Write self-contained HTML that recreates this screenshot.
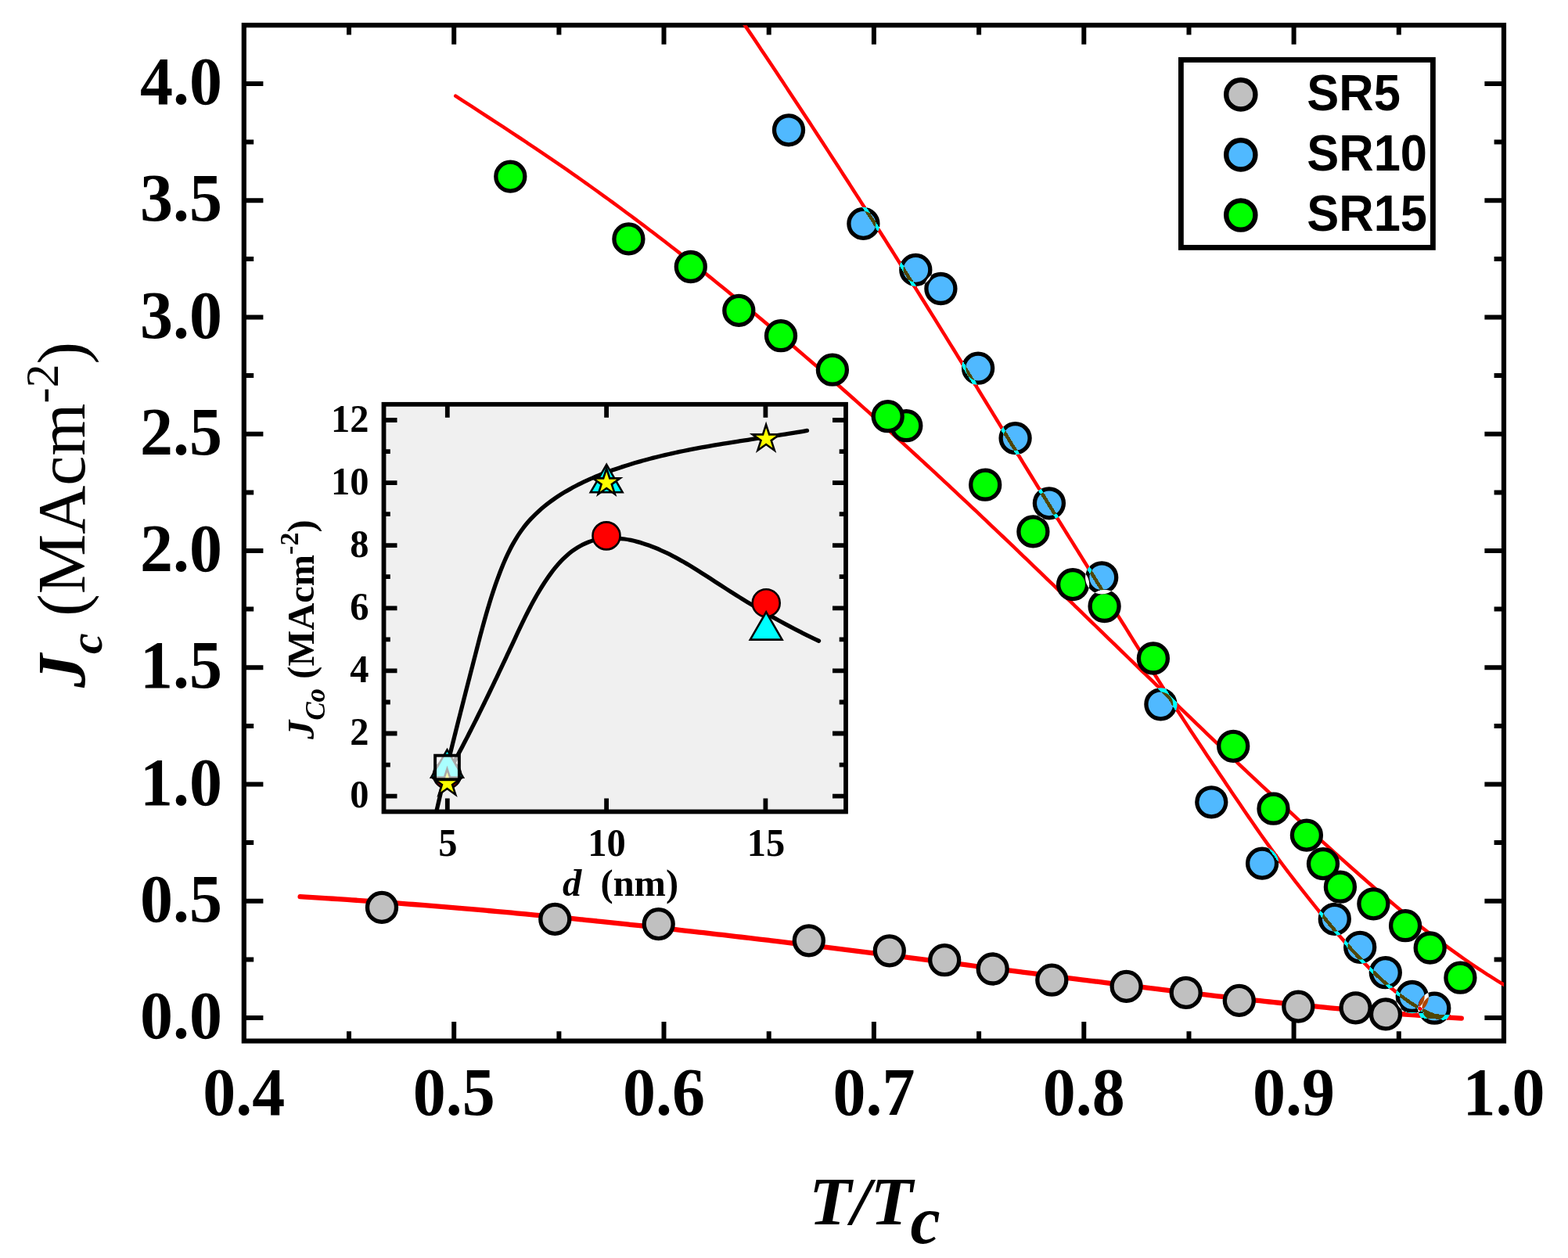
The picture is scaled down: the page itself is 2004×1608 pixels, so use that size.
<!DOCTYPE html>
<html lang="en"><head><meta charset="utf-8"><title>Jc vs T/Tc</title>
<style>
html,body{margin:0;padding:0;background:#fff;}
body{width:2004px;height:1608px;overflow:hidden;}
svg{display:block;isolation:isolate;}
text{font-family:"Liberation Serif","Times New Roman",serif;fill:#000;}
.b{font-weight:bold;}
.bi{font-weight:bold;font-style:italic;}
.leg text{font-family:"Liberation Sans",Arial,sans-serif;font-weight:bold;}
.x{mix-blend-mode:difference;}
</style></head><body>
<svg xmlns="http://www.w3.org/2000/svg" width="2004" height="1608" viewBox="0 0 2004 1608">
<rect x="0" y="0" width="2004" height="1608" fill="#fff"/>
<defs><clipPath id="plot"><rect x="311.8" y="32.2" width="1610.2" height="1298.4"/></clipPath></defs>
<g stroke="#000" stroke-width="6.0" fill="none">
<path d="M446.0 32.2v12.4M446.0 1330.6v-12.4M580.2 32.2v24.6M580.2 1330.6v-24.6M714.4 32.2v12.4M714.4 1330.6v-12.4M848.5 32.2v24.6M848.5 1330.6v-24.6M982.7 32.2v12.4M982.7 1330.6v-12.4M1116.9 32.2v24.6M1116.9 1330.6v-24.6M1251.1 32.2v12.4M1251.1 1330.6v-12.4M1385.3 32.2v24.6M1385.3 1330.6v-24.6M1519.5 32.2v12.4M1519.5 1330.6v-12.4M1653.6 32.2v24.6M1653.6 1330.6v-24.6M1787.8 32.2v12.4M1787.8 1330.6v-12.4M311.8 1301.0h24.6M1922.0 1301.0h-24.6M311.8 1226.4h12.4M1922.0 1226.4h-12.4M311.8 1151.8h24.6M1922.0 1151.8h-24.6M311.8 1077.1h12.4M1922.0 1077.1h-12.4M311.8 1002.5h24.6M1922.0 1002.5h-24.6M311.8 927.9h12.4M1922.0 927.9h-12.4M311.8 853.2h24.6M1922.0 853.2h-24.6M311.8 778.6h12.4M1922.0 778.6h-12.4M311.8 704.0h24.6M1922.0 704.0h-24.6M311.8 629.4h12.4M1922.0 629.4h-12.4M311.8 554.8h24.6M1922.0 554.8h-24.6M311.8 480.1h12.4M1922.0 480.1h-12.4M311.8 405.5h24.6M1922.0 405.5h-24.6M311.8 330.9h12.4M1922.0 330.9h-12.4M311.8 256.2h24.6M1922.0 256.2h-24.6M311.8 181.6h12.4M1922.0 181.6h-12.4M311.8 107.0h24.6M1922.0 107.0h-24.6"/>
<rect x="311.8" y="32.2" width="1610.2" height="1298.4" stroke-width="6.2"/>
</g>
<g class="b" font-size="84">
<text transform="translate(284 1327.0) scale(1 1.027)" text-anchor="end">0.0</text>
<text transform="translate(284 1177.8) scale(1 1.027)" text-anchor="end">0.5</text>
<text transform="translate(284 1028.5) scale(1 1.027)" text-anchor="end">1.0</text>
<text transform="translate(284 879.2) scale(1 1.027)" text-anchor="end">1.5</text>
<text transform="translate(284 730.0) scale(1 1.027)" text-anchor="end">2.0</text>
<text transform="translate(284 580.8) scale(1 1.027)" text-anchor="end">2.5</text>
<text transform="translate(284 431.5) scale(1 1.027)" text-anchor="end">3.0</text>
<text transform="translate(284 282.2) scale(1 1.027)" text-anchor="end">3.5</text>
<text transform="translate(284 133.0) scale(1 1.027)" text-anchor="end">4.0</text>
<text transform="translate(311.8 1424.5) scale(1 1.027)" text-anchor="middle">0.4</text>
<text transform="translate(580.2 1424.5) scale(1 1.027)" text-anchor="middle">0.5</text>
<text transform="translate(848.5 1424.5) scale(1 1.027)" text-anchor="middle">0.6</text>
<text transform="translate(1116.9 1424.5) scale(1 1.027)" text-anchor="middle">0.7</text>
<text transform="translate(1385.3 1424.5) scale(1 1.027)" text-anchor="middle">0.8</text>
<text transform="translate(1653.6 1424.5) scale(1 1.027)" text-anchor="middle">0.9</text>
<text transform="translate(1922.0 1424.5) scale(1 1.027)" text-anchor="middle">1.0</text>
</g>
<text class="bi" font-size="86" transform="translate(1033.9 1564.8) scale(1.03 1)">T/T</text>
<text class="bi" font-size="86" x="1163.6" y="1588.8">c</text>
<text transform="translate(107.8 879) rotate(-90)" font-size="86"><tspan class="bi">J</tspan><tspan class="bi" font-size="60" dy="22">c</tspan><tspan dy="-22"> (MAcm</tspan><tspan font-size="60" dy="-34">-2</tspan><tspan dy="34">)</tspan></text>
<defs>
<clipPath id="bc"><circle cx="1008.0" cy="166.3" r="23"/><circle cx="1103.4" cy="285.9" r="23"/><circle cx="1170.3" cy="344.9" r="23"/><circle cx="1202.4" cy="369.0" r="23"/><circle cx="1250.1" cy="470.7" r="23"/><circle cx="1297.6" cy="560.1" r="23"/><circle cx="1340.9" cy="643.3" r="23"/><circle cx="1408.2" cy="738.3" r="23"/><circle cx="1483.4" cy="900.3" r="23"/><circle cx="1548.3" cy="1025.3" r="23"/><circle cx="1613.1" cy="1103.6" r="23"/><circle cx="1705.8" cy="1174.8" r="23"/><circle cx="1738.2" cy="1210.8" r="23"/><circle cx="1770.8" cy="1243.2" r="23"/><circle cx="1804.8" cy="1274.0" r="23"/><circle cx="1833.3" cy="1288.7" r="23"/></clipPath>
<mask id="nbc" maskUnits="userSpaceOnUse" x="0" y="0" width="2004" height="1608"><rect width="2004" height="1608" fill="#fff"/><circle cx="1008.0" cy="166.3" r="22" fill="#000"/><circle cx="1103.4" cy="285.9" r="22" fill="#000"/><circle cx="1170.3" cy="344.9" r="22" fill="#000"/><circle cx="1202.4" cy="369.0" r="22" fill="#000"/><circle cx="1250.1" cy="470.7" r="22" fill="#000"/><circle cx="1297.6" cy="560.1" r="22" fill="#000"/><circle cx="1340.9" cy="643.3" r="22" fill="#000"/><circle cx="1408.2" cy="738.3" r="22" fill="#000"/><circle cx="1483.4" cy="900.3" r="22" fill="#000"/><circle cx="1548.3" cy="1025.3" r="22" fill="#000"/><circle cx="1613.1" cy="1103.6" r="22" fill="#000"/><circle cx="1705.8" cy="1174.8" r="22" fill="#000"/><circle cx="1738.2" cy="1210.8" r="22" fill="#000"/><circle cx="1770.8" cy="1243.2" r="22" fill="#000"/><circle cx="1804.8" cy="1274.0" r="22" fill="#000"/><circle cx="1833.3" cy="1288.7" r="22" fill="#000"/></mask>
<g id="fits" fill="none" stroke="#f00" stroke-linecap="round" stroke-linejoin="round">
<path stroke-width="6.3" d="M383.6 1146.2C385.58 1146.33 391.60 1146.68 395.61 1146.92C399.62 1147.16 403.63 1147.40 407.64 1147.65C411.65 1147.89 415.66 1148.14 419.67 1148.39C423.68 1148.65 427.69 1148.90 431.70 1149.16C435.71 1149.42 439.72 1149.68 443.73 1149.95C447.74 1150.22 451.74 1150.48 455.75 1150.76C459.76 1151.03 463.77 1151.31 467.77 1151.58C471.78 1151.86 475.78 1152.15 479.79 1152.43C483.80 1152.72 487.80 1153.01 491.81 1153.30C495.81 1153.59 499.82 1153.89 503.82 1154.18C507.82 1154.48 511.83 1154.78 515.83 1155.09C519.83 1155.39 523.84 1155.70 527.84 1156.01C531.84 1156.32 535.84 1156.63 539.85 1156.95C543.85 1157.27 547.85 1157.59 551.85 1157.91C555.85 1158.23 559.85 1158.55 563.85 1158.88C567.85 1159.21 571.85 1159.54 575.85 1159.88C579.85 1160.21 583.85 1160.55 587.85 1160.89C591.85 1161.22 595.84 1161.57 599.84 1161.91C603.84 1162.26 607.84 1162.60 611.84 1162.95C615.83 1163.30 619.83 1163.66 623.83 1164.01C627.82 1164.37 631.82 1164.73 635.82 1165.09C639.81 1165.45 643.81 1165.81 647.80 1166.18C651.80 1166.55 655.79 1166.91 659.79 1167.28C663.78 1167.66 667.78 1168.03 671.77 1168.41C675.77 1168.78 679.76 1169.16 683.75 1169.54C687.75 1169.92 691.74 1170.31 695.73 1170.69C699.73 1171.08 703.72 1171.47 707.71 1171.86C711.70 1172.25 715.70 1172.64 719.69 1173.04C723.68 1173.43 727.67 1173.83 731.66 1174.23C735.66 1174.63 739.65 1175.03 743.64 1175.44C747.63 1175.84 751.62 1176.25 755.61 1176.65C759.60 1177.06 763.59 1177.47 767.58 1177.89C771.57 1178.30 775.56 1178.71 779.55 1179.13C783.54 1179.55 787.53 1179.97 791.51 1180.39C795.50 1180.81 799.49 1181.23 803.48 1181.66C807.47 1182.08 811.46 1182.51 815.44 1182.94C819.43 1183.37 823.42 1183.80 827.41 1184.23C831.40 1184.67 835.38 1185.10 839.37 1185.54C843.36 1185.98 847.34 1186.41 851.33 1186.85C855.32 1187.29 859.30 1187.74 863.29 1188.18C867.28 1188.62 871.26 1189.07 875.25 1189.52C879.23 1189.97 883.22 1190.41 887.21 1190.87C891.19 1191.32 895.18 1191.77 899.16 1192.22C903.15 1192.68 907.13 1193.13 911.12 1193.59C915.10 1194.05 919.09 1194.51 923.07 1194.97C927.05 1195.43 931.04 1195.89 935.02 1196.35C939.01 1196.82 942.99 1197.28 946.98 1197.75C950.96 1198.21 954.94 1198.68 958.93 1199.15C962.91 1199.62 966.89 1200.09 970.88 1200.56C974.86 1201.03 978.84 1201.51 982.83 1201.98C986.81 1202.46 990.79 1202.93 994.78 1203.41C998.76 1203.89 1002.74 1204.37 1006.72 1204.85C1010.71 1205.33 1014.69 1205.81 1018.67 1206.29C1022.65 1206.77 1026.64 1207.26 1030.62 1207.74C1034.60 1208.22 1038.58 1208.71 1042.56 1209.20C1046.55 1209.68 1050.53 1210.17 1054.51 1210.66C1058.49 1211.15 1062.47 1211.64 1066.46 1212.13C1070.44 1212.62 1074.42 1213.11 1078.40 1213.61C1082.38 1214.10 1086.36 1214.59 1090.35 1215.09C1094.33 1215.58 1098.31 1216.08 1102.29 1216.57C1106.27 1217.07 1110.25 1217.57 1114.23 1218.07C1118.21 1218.57 1122.20 1219.06 1126.18 1219.56C1130.16 1220.06 1134.14 1220.56 1138.12 1221.07C1142.10 1221.57 1146.08 1222.07 1150.06 1222.57C1154.04 1223.08 1158.02 1223.58 1162.01 1224.08C1165.99 1224.59 1169.97 1225.09 1173.95 1225.60C1177.93 1226.10 1181.91 1226.61 1185.89 1227.12C1189.87 1227.62 1193.85 1228.13 1197.83 1228.64C1201.81 1229.14 1205.79 1229.65 1209.78 1230.16C1213.76 1230.67 1217.74 1231.18 1221.72 1231.69C1225.70 1232.20 1229.68 1232.71 1233.66 1233.22C1237.64 1233.73 1241.62 1234.24 1245.60 1234.75C1249.58 1235.26 1253.57 1235.77 1257.55 1236.28C1261.53 1236.79 1265.51 1237.31 1269.49 1237.82C1273.47 1238.33 1277.45 1238.84 1281.43 1239.35C1285.41 1239.87 1289.39 1240.38 1293.38 1240.89C1297.36 1241.40 1301.34 1241.91 1305.32 1242.42C1309.30 1242.93 1313.28 1243.44 1317.26 1243.96C1321.25 1244.47 1325.23 1244.98 1329.21 1245.49C1333.19 1246.00 1337.17 1246.50 1341.15 1247.01C1345.14 1247.52 1349.12 1248.03 1353.10 1248.54C1357.08 1249.04 1361.06 1249.55 1365.05 1250.06C1369.03 1250.56 1373.01 1251.07 1376.99 1251.57C1380.97 1252.08 1384.96 1252.58 1388.94 1253.08C1392.92 1253.58 1396.91 1254.09 1400.89 1254.59C1404.87 1255.09 1408.85 1255.58 1412.84 1256.08C1416.82 1256.58 1420.80 1257.08 1424.79 1257.57C1428.77 1258.07 1432.75 1258.56 1436.74 1259.05C1440.72 1259.55 1444.70 1260.04 1448.69 1260.53C1452.67 1261.01 1456.66 1261.50 1460.64 1261.99C1464.62 1262.48 1468.61 1262.96 1472.59 1263.44C1476.58 1263.93 1480.56 1264.41 1484.55 1264.89C1488.53 1265.36 1492.52 1265.84 1496.50 1266.32C1500.49 1266.79 1504.47 1267.26 1508.46 1267.74C1512.44 1268.21 1516.43 1268.68 1520.41 1269.14C1524.40 1269.61 1528.38 1270.07 1532.37 1270.54C1536.36 1271.00 1540.34 1271.46 1544.33 1271.92C1548.32 1272.37 1552.30 1272.83 1556.29 1273.28C1560.28 1273.73 1564.26 1274.18 1568.25 1274.63C1572.24 1275.08 1576.23 1275.52 1580.21 1275.97C1584.20 1276.41 1588.19 1276.85 1592.18 1277.28C1596.17 1277.72 1600.15 1278.15 1604.14 1278.58C1608.13 1279.01 1612.12 1279.44 1616.11 1279.87C1620.10 1280.29 1624.09 1280.71 1628.08 1281.13C1632.07 1281.55 1636.06 1281.96 1640.05 1282.38C1644.04 1282.79 1648.03 1283.20 1652.02 1283.60C1656.01 1284.01 1660.00 1284.41 1663.99 1284.81C1667.98 1285.20 1671.97 1285.60 1675.97 1285.99C1679.96 1286.38 1683.95 1286.77 1687.94 1287.15C1691.93 1287.54 1695.93 1287.92 1699.92 1288.29C1703.91 1288.67 1707.91 1289.04 1711.90 1289.41C1715.89 1289.78 1719.89 1290.14 1723.88 1290.50C1727.87 1290.86 1731.87 1291.22 1735.86 1291.57C1739.86 1291.92 1743.85 1292.27 1747.85 1292.61C1751.84 1292.96 1755.84 1293.30 1759.84 1293.63C1763.83 1293.97 1767.83 1294.30 1771.82 1294.63C1775.82 1294.95 1779.82 1295.27 1783.81 1295.59C1787.81 1295.91 1791.81 1296.22 1795.81 1296.53C1799.80 1296.84 1803.80 1297.14 1807.80 1297.44C1811.80 1297.74 1815.80 1298.03 1819.80 1298.32C1823.80 1298.61 1827.80 1298.89 1831.80 1299.17C1835.80 1299.45 1839.80 1299.72 1843.80 1299.99C1847.80 1300.26 1851.80 1300.52 1855.80 1300.78C1859.80 1301.04 1865.81 1301.41 1867.81 1301.54"/>
<path stroke-width="4.5" d="M945.1 22.0C946.17 23.62 949.54 28.59 951.77 31.91C954.01 35.23 956.25 38.55 958.48 41.87C960.72 45.20 962.95 48.52 965.18 51.85C967.41 55.17 969.64 58.50 971.87 61.83C974.10 65.16 976.33 68.49 978.55 71.82C980.78 75.15 983.00 78.49 985.22 81.82C987.45 85.16 989.67 88.49 991.89 91.83C994.10 95.17 996.32 98.51 998.54 101.85C1000.75 105.19 1002.97 108.53 1005.18 111.88C1007.39 115.22 1009.60 118.57 1011.81 121.91C1014.02 125.26 1016.23 128.61 1018.43 131.96C1020.64 135.31 1022.84 138.66 1025.04 142.01C1027.25 145.36 1029.45 148.72 1031.64 152.07C1033.84 155.43 1036.04 158.78 1038.24 162.14C1040.43 165.50 1042.63 168.85 1044.82 172.21C1047.01 175.57 1049.20 178.94 1051.39 182.30C1053.58 185.66 1055.77 189.02 1057.95 192.39C1060.14 195.75 1062.32 199.12 1064.51 202.49C1066.69 205.85 1068.87 209.22 1071.05 212.59C1073.23 215.96 1075.40 219.33 1077.58 222.70C1079.75 226.08 1081.93 229.45 1084.10 232.82C1086.27 236.20 1088.44 239.57 1090.61 242.95C1092.78 246.32 1094.95 249.70 1097.11 253.08C1099.28 256.46 1101.44 259.83 1103.61 263.21C1105.77 266.59 1107.93 269.98 1110.09 273.36C1112.25 276.74 1114.40 280.12 1116.56 283.51C1118.71 286.89 1120.87 290.28 1123.02 293.66C1125.17 297.05 1127.32 300.43 1129.47 303.82C1131.62 307.21 1133.76 310.60 1135.91 313.99C1138.05 317.38 1140.20 320.77 1142.34 324.16C1144.48 327.55 1146.62 330.94 1148.76 334.33C1150.90 337.72 1153.03 341.12 1155.17 344.51C1157.30 347.90 1159.43 351.30 1161.56 354.70C1163.70 358.09 1165.82 361.49 1167.95 364.88C1170.08 368.28 1172.21 371.68 1174.33 375.08C1176.45 378.47 1178.58 381.87 1180.70 385.27C1182.82 388.67 1184.94 392.07 1187.05 395.47C1189.17 398.87 1191.29 402.28 1193.40 405.68C1195.51 409.08 1197.62 412.48 1199.73 415.89C1201.84 419.29 1203.95 422.69 1206.06 426.10C1208.17 429.50 1210.27 432.91 1212.37 436.31C1214.48 439.72 1216.58 443.12 1218.68 446.53C1220.78 449.94 1222.88 453.34 1224.97 456.75C1227.07 460.16 1229.17 463.56 1231.26 466.97C1233.36 470.38 1235.45 473.79 1237.54 477.20C1239.64 480.61 1241.73 484.01 1243.82 487.42C1245.91 490.83 1248.00 494.24 1250.09 497.65C1252.18 501.06 1254.27 504.47 1256.36 507.89C1258.45 511.30 1260.54 514.71 1262.63 518.12C1264.71 521.53 1266.80 524.94 1268.89 528.35C1270.98 531.77 1273.07 535.18 1275.16 538.59C1277.25 542.00 1279.34 545.41 1281.43 548.83C1283.52 552.24 1285.61 555.65 1287.70 559.07C1289.79 562.48 1291.88 565.89 1293.97 569.30C1296.07 572.72 1298.16 576.13 1300.26 579.55C1302.35 582.96 1304.45 586.37 1306.54 589.79C1308.64 593.20 1310.74 596.61 1312.84 600.03C1314.94 603.44 1317.04 606.85 1319.14 610.27C1321.24 613.68 1323.35 617.10 1325.45 620.51C1327.56 623.92 1329.67 627.34 1331.78 630.75C1333.89 634.16 1336.00 637.58 1338.11 640.99C1340.22 644.40 1342.34 647.82 1344.45 651.23C1346.57 654.64 1348.68 658.06 1350.80 661.47C1352.92 664.88 1355.04 668.30 1357.16 671.71C1359.28 675.12 1361.40 678.54 1363.52 681.95C1365.64 685.36 1367.77 688.77 1369.89 692.18C1372.01 695.60 1374.13 699.01 1376.26 702.42C1378.38 705.83 1380.51 709.24 1382.63 712.65C1384.76 716.06 1386.88 719.47 1389.01 722.89C1391.13 726.30 1393.26 729.71 1395.38 733.12C1397.51 736.53 1399.64 739.93 1401.76 743.34C1403.89 746.75 1406.01 750.16 1408.14 753.57C1410.26 756.98 1412.39 760.39 1414.51 763.79C1416.63 767.20 1418.76 770.61 1420.88 774.01C1423.00 777.42 1425.13 780.83 1427.25 784.23C1429.37 787.64 1431.49 791.04 1433.61 794.45C1435.73 797.85 1437.85 801.26 1439.97 804.66C1442.08 808.06 1444.20 811.47 1446.32 814.87C1448.43 818.27 1450.55 821.67 1452.66 825.07C1454.78 828.47 1456.90 831.87 1459.01 835.27C1461.13 838.67 1463.25 842.07 1465.37 845.46C1467.49 848.86 1469.61 852.25 1471.74 855.65C1473.86 859.04 1475.99 862.43 1478.12 865.82C1480.25 869.21 1482.39 872.60 1484.52 875.99C1486.66 879.38 1488.80 882.76 1490.95 886.15C1493.10 889.53 1495.25 892.91 1497.41 896.29C1499.56 899.67 1501.72 903.05 1503.89 906.42C1506.06 909.79 1508.24 913.17 1510.42 916.54C1512.60 919.91 1514.79 923.27 1516.98 926.64C1519.18 930.00 1521.39 933.37 1523.60 936.73C1525.81 940.09 1528.02 943.44 1530.25 946.80C1532.47 950.15 1534.70 953.50 1536.93 956.85C1539.16 960.19 1541.39 963.54 1543.63 966.88C1545.86 970.22 1548.10 973.56 1550.33 976.89C1552.57 980.22 1554.80 983.55 1557.04 986.88C1559.27 990.21 1561.50 993.53 1563.73 996.85C1565.96 1000.17 1568.18 1003.48 1570.41 1006.79C1572.64 1010.11 1574.86 1013.41 1577.09 1016.72C1579.32 1020.02 1581.55 1023.32 1583.78 1026.61C1586.02 1029.90 1588.25 1033.19 1590.49 1036.48C1592.73 1039.76 1594.98 1043.04 1597.23 1046.32C1599.49 1049.60 1601.74 1052.87 1604.01 1056.13C1606.28 1059.40 1608.56 1062.66 1610.84 1065.92C1613.13 1069.17 1615.42 1072.42 1617.73 1075.67C1620.04 1078.91 1622.36 1082.15 1624.70 1085.39C1627.03 1088.62 1629.38 1091.85 1631.74 1095.08C1634.10 1098.30 1636.48 1101.52 1638.88 1104.73C1641.27 1107.94 1643.68 1111.15 1646.11 1114.35C1648.54 1117.55 1650.98 1120.74 1653.44 1123.93C1655.90 1127.12 1658.37 1130.30 1660.85 1133.48C1663.34 1136.65 1665.83 1139.82 1668.34 1142.98C1670.84 1146.15 1673.36 1149.30 1675.88 1152.45C1678.41 1155.60 1680.94 1158.74 1683.48 1161.88C1686.01 1165.02 1688.55 1168.15 1691.11 1171.27C1693.66 1174.38 1696.22 1177.50 1698.79 1180.59C1701.36 1183.69 1703.94 1186.78 1706.54 1189.85C1709.14 1192.92 1711.75 1195.98 1714.38 1199.01C1717.01 1202.05 1719.66 1205.07 1722.33 1208.06C1725.00 1211.06 1727.69 1214.03 1730.41 1216.98C1733.12 1219.93 1735.86 1222.86 1738.63 1225.75C1741.40 1228.65 1744.19 1231.52 1747.02 1234.36C1749.85 1237.20 1752.71 1240.01 1755.60 1242.78C1758.50 1245.55 1761.42 1248.29 1764.39 1250.99C1767.36 1253.70 1770.36 1256.36 1773.41 1258.99C1776.45 1261.61 1779.54 1264.21 1782.67 1266.74C1785.80 1269.28 1788.97 1271.79 1792.19 1274.21C1795.42 1276.63 1798.69 1279.00 1802.01 1281.24C1805.33 1283.49 1808.70 1285.66 1812.13 1287.67C1815.55 1289.68 1819.03 1291.58 1822.57 1293.30C1826.11 1295.02 1829.70 1296.60 1833.36 1297.97C1837.01 1299.34 1842.65 1300.91 1844.51 1301.50"/>
<path stroke-width="4.5" d="M582.2 122.6C583.92 123.69 589.06 127.05 592.48 129.28C595.90 131.51 599.32 133.74 602.73 135.96C606.14 138.18 609.55 140.40 612.95 142.61C616.35 144.82 619.74 147.03 623.13 149.24C626.52 151.45 629.91 153.66 633.29 155.87C636.67 158.07 640.04 160.28 643.41 162.49C646.79 164.69 650.15 166.90 653.51 169.11C656.87 171.32 660.23 173.53 663.58 175.75C666.93 177.96 670.28 180.18 673.62 182.41C676.96 184.63 680.30 186.85 683.63 189.09C686.96 191.32 690.29 193.56 693.62 195.80C696.94 198.05 700.26 200.30 703.57 202.56C706.88 204.82 710.19 207.08 713.50 209.36C716.80 211.63 720.10 213.91 723.40 216.20C726.70 218.49 729.99 220.79 733.27 223.09C736.56 225.39 739.84 227.70 743.12 230.02C746.40 232.34 749.67 234.66 752.94 236.99C756.21 239.32 759.47 241.66 762.73 244.00C765.99 246.35 769.25 248.70 772.50 251.06C775.75 253.41 779.00 255.78 782.24 258.15C785.49 260.52 788.73 262.90 791.96 265.28C795.20 267.66 798.43 270.05 801.65 272.45C804.88 274.85 808.10 277.25 811.32 279.66C814.54 282.07 817.75 284.48 820.96 286.90C824.17 289.32 827.38 291.75 830.58 294.18C833.78 296.61 836.98 299.05 840.17 301.49C843.37 303.94 846.56 306.39 849.74 308.84C852.93 311.30 856.11 313.76 859.29 316.23C862.47 318.69 865.64 321.17 868.81 323.64C871.98 326.12 875.15 328.60 878.31 331.09C881.48 333.58 884.63 336.07 887.79 338.57C890.94 341.07 894.10 343.57 897.24 346.08C900.39 348.59 903.54 351.10 906.68 353.62C909.82 356.14 912.95 358.66 916.09 361.19C919.22 363.72 922.35 366.25 925.47 368.79C928.60 371.33 931.72 373.87 934.84 376.42C937.96 378.97 941.08 381.52 944.19 384.07C947.30 386.63 950.41 389.19 953.51 391.76C956.62 394.32 959.72 396.89 962.82 399.46C965.91 402.04 969.01 404.61 972.10 407.20C975.19 409.78 978.28 412.36 981.36 414.95C984.45 417.54 987.53 420.14 990.61 422.73C993.69 425.33 996.76 427.93 999.83 430.54C1002.90 433.15 1005.97 435.76 1009.04 438.37C1012.10 440.98 1015.16 443.60 1018.22 446.22C1021.28 448.84 1024.34 451.47 1027.39 454.09C1030.44 456.72 1033.49 459.35 1036.54 461.99C1039.58 464.63 1042.63 467.26 1045.67 469.91C1048.71 472.55 1051.75 475.20 1054.78 477.85C1057.81 480.50 1060.85 483.15 1063.87 485.80C1066.90 488.46 1069.93 491.12 1072.95 493.78C1075.97 496.45 1078.99 499.11 1082.01 501.78C1085.03 504.45 1088.04 507.12 1091.05 509.80C1094.07 512.48 1097.07 515.16 1100.08 517.84C1103.09 520.52 1106.09 523.20 1109.09 525.89C1112.09 528.58 1115.09 531.27 1118.08 533.97C1121.08 536.66 1124.07 539.36 1127.06 542.06C1130.05 544.76 1133.04 547.46 1136.02 550.16C1139.01 552.87 1141.99 555.58 1144.97 558.29C1147.95 561.00 1150.93 563.71 1153.90 566.43C1156.88 569.14 1159.85 571.86 1162.82 574.58C1165.79 577.30 1168.75 580.03 1171.72 582.75C1174.68 585.48 1177.65 588.21 1180.61 590.94C1183.57 593.67 1186.53 596.40 1189.48 599.14C1192.44 601.88 1195.39 604.61 1198.34 607.35C1201.29 610.09 1204.24 612.84 1207.19 615.58C1210.13 618.33 1213.08 621.07 1216.02 623.82C1218.96 626.57 1221.90 629.32 1224.84 632.07C1227.78 634.83 1230.72 637.58 1233.65 640.34C1236.58 643.09 1239.52 645.85 1242.44 648.61C1245.37 651.37 1248.30 654.14 1251.23 656.90C1254.15 659.67 1257.08 662.43 1260.00 665.20C1262.92 667.97 1265.84 670.74 1268.76 673.51C1271.68 676.28 1274.59 679.05 1277.51 681.83C1280.42 684.60 1283.33 687.38 1286.24 690.15C1289.15 692.93 1292.06 695.71 1294.97 698.49C1297.88 701.27 1300.78 704.05 1303.69 706.83C1306.59 709.62 1309.49 712.40 1312.39 715.19C1315.30 717.97 1318.20 720.76 1321.09 723.55C1323.99 726.33 1326.89 729.12 1329.78 731.91C1332.68 734.70 1335.58 737.49 1338.47 740.28C1341.36 743.07 1344.25 745.87 1347.15 748.66C1350.04 751.45 1352.93 754.25 1355.82 757.04C1358.71 759.84 1361.60 762.63 1364.48 765.43C1367.37 768.22 1370.26 771.02 1373.15 773.82C1376.03 776.62 1378.92 779.41 1381.80 782.21C1384.69 785.01 1387.57 787.81 1390.46 790.61C1393.34 793.41 1396.23 796.20 1399.11 799.00C1402.00 801.80 1404.88 804.60 1407.76 807.40C1410.65 810.20 1413.53 813.00 1416.41 815.80C1419.30 818.60 1422.18 821.40 1425.06 824.20C1427.95 827.00 1430.83 829.80 1433.71 832.60C1436.60 835.40 1439.48 838.20 1442.36 841.00C1445.25 843.80 1448.13 846.60 1451.02 849.40C1453.90 852.20 1456.78 855.00 1459.67 857.80C1462.56 860.60 1465.44 863.39 1468.33 866.19C1471.21 868.99 1474.10 871.79 1476.99 874.58C1479.88 877.38 1482.76 880.17 1485.65 882.97C1488.54 885.76 1491.43 888.56 1494.32 891.35C1497.22 894.15 1500.11 896.94 1503.00 899.73C1505.89 902.52 1508.79 905.31 1511.68 908.10C1514.58 910.89 1517.48 913.68 1520.37 916.47C1523.27 919.26 1526.17 922.04 1529.07 924.83C1531.97 927.62 1534.87 930.40 1537.78 933.18C1540.68 935.97 1543.58 938.75 1546.49 941.53C1549.40 944.31 1552.31 947.09 1555.22 949.87C1558.13 952.64 1561.04 955.42 1563.95 958.20C1566.86 960.97 1569.78 963.74 1572.70 966.52C1575.61 969.29 1578.53 972.06 1581.45 974.83C1584.38 977.59 1587.30 980.36 1590.22 983.13C1593.15 985.89 1596.08 988.65 1599.01 991.41C1601.94 994.17 1604.87 996.93 1607.80 999.69C1610.74 1002.45 1613.68 1005.20 1616.62 1007.96C1619.56 1010.71 1622.50 1013.46 1625.44 1016.21C1628.39 1018.96 1631.34 1021.70 1634.29 1024.45C1637.24 1027.19 1640.19 1029.93 1643.14 1032.67C1646.10 1035.41 1649.06 1038.15 1652.02 1040.88C1654.98 1043.62 1657.95 1046.35 1660.92 1049.08C1663.88 1051.81 1666.85 1054.54 1669.83 1057.26C1672.80 1059.98 1675.78 1062.70 1678.76 1065.42C1681.74 1068.14 1684.72 1070.86 1687.71 1073.57C1690.70 1076.28 1693.69 1078.99 1696.68 1081.70C1699.68 1084.41 1702.68 1087.11 1705.68 1089.82C1708.68 1092.52 1711.68 1095.21 1714.69 1097.91C1717.70 1100.60 1720.71 1103.30 1723.73 1105.99C1726.75 1108.67 1729.77 1111.36 1732.79 1114.04C1735.82 1116.72 1738.85 1119.39 1741.88 1122.06C1744.92 1124.73 1747.96 1127.40 1751.01 1130.05C1754.05 1132.71 1757.10 1135.36 1760.16 1138.00C1763.22 1140.64 1766.28 1143.27 1769.35 1145.89C1772.42 1148.52 1775.50 1151.13 1778.59 1153.73C1781.67 1156.34 1784.76 1158.93 1787.87 1161.51C1790.97 1164.09 1794.07 1166.66 1797.19 1169.22C1800.31 1171.77 1803.43 1174.32 1806.57 1176.85C1809.70 1179.38 1812.84 1181.89 1815.99 1184.39C1819.15 1186.90 1822.31 1189.38 1825.48 1191.85C1828.65 1194.32 1831.83 1196.78 1835.03 1199.21C1838.22 1201.65 1841.42 1204.07 1844.64 1206.47C1847.85 1208.87 1851.08 1211.25 1854.31 1213.61C1857.55 1215.98 1860.80 1218.32 1864.06 1220.64C1867.32 1222.96 1870.59 1225.27 1873.88 1227.55C1877.17 1229.83 1880.46 1232.08 1883.78 1234.32C1887.09 1236.55 1890.41 1238.77 1893.75 1240.95C1897.09 1243.14 1900.44 1245.31 1903.81 1247.45C1907.18 1249.58 1910.56 1251.70 1913.96 1253.79C1917.35 1255.87 1920.76 1257.93 1924.19 1259.97C1927.62 1262.00 1932.80 1264.98 1934.52 1265.98"/>
</g>
</defs>
<g clip-path="url(#plot)">
<use href="#fits" mask="url(#nbc)"/>
<g clip-path="url(#bc)"><use href="#fits" shape-rendering="crispEdges"/></g>
</g>
<g stroke="#000" stroke-width="5.3">
<g fill="#c0c0c0"><circle cx="1771.0" cy="1296.4" r="18.5"/><circle cx="1732.6" cy="1288.3" r="18.5"/><circle cx="1659.3" cy="1286.6" r="18.5"/><circle cx="1583.8" cy="1278.9" r="18.5"/><circle cx="1515.7" cy="1268.9" r="18.5"/><circle cx="1439.6" cy="1260.9" r="18.5"/><circle cx="1344.3" cy="1252.7" r="18.5"/><circle cx="1268.7" cy="1238.5" r="18.5"/><circle cx="1207.2" cy="1227.2" r="18.5"/><circle cx="1136.8" cy="1215.3" r="18.5"/><circle cx="1033.8" cy="1202.3" r="18.5"/><circle cx="841.7" cy="1181.1" r="18.5"/><circle cx="709.3" cy="1174.9" r="18.5"/><circle cx="488.0" cy="1159.9" r="18.5"/></g>
<g fill="#0f0"><circle cx="1866.4" cy="1249.7" r="18.5"/><circle cx="1827.7" cy="1211.5" r="18.5"/><circle cx="1796.1" cy="1183.2" r="18.5"/><circle cx="1755.4" cy="1155.3" r="18.5"/><circle cx="1712.9" cy="1133.7" r="18.5"/><circle cx="1691.0" cy="1104.1" r="18.5"/><circle cx="1669.9" cy="1067.6" r="18.5"/><circle cx="1627.5" cy="1033.7" r="18.5"/><circle cx="1576.2" cy="953.8" r="18.5"/><circle cx="1473.9" cy="841.5" r="18.5"/><circle cx="1411.6" cy="775.0" r="18.5"/><circle cx="1371.1" cy="747.1" r="18.5"/><circle cx="1320.4" cy="679.4" r="18.5"/><circle cx="1259.2" cy="619.7" r="18.5"/><circle cx="1158.3" cy="544.2" r="18.5"/><circle cx="1134.7" cy="532.2" r="18.5"/><circle cx="1063.9" cy="472.7" r="18.5"/><circle cx="998.0" cy="429.2" r="18.5"/><circle cx="944.3" cy="396.9" r="18.5"/><circle cx="882.8" cy="341.0" r="18.5"/><circle cx="803.4" cy="305.4" r="18.5"/><circle cx="652.3" cy="225.6" r="18.5"/></g>
</g>
<g fill="#af4600" stroke="#fff" stroke-width="5.3">
<circle class="x" cx="1833.3" cy="1288.7" r="18.5"/>
<circle class="x" cx="1804.8" cy="1274.0" r="18.5"/>
<circle class="x" cx="1770.8" cy="1243.2" r="18.5"/>
<circle class="x" cx="1738.2" cy="1210.8" r="18.5"/>
<circle class="x" cx="1705.8" cy="1174.8" r="18.5"/>
<circle class="x" cx="1613.1" cy="1103.6" r="18.5"/>
<circle class="x" cx="1548.3" cy="1025.3" r="18.5"/>
<circle class="x" cx="1483.4" cy="900.3" r="18.5"/>
<circle class="x" cx="1408.2" cy="738.3" r="18.5"/>
<circle class="x" cx="1340.9" cy="643.3" r="18.5"/>
<circle class="x" cx="1297.6" cy="560.1" r="18.5"/>
<circle class="x" cx="1250.1" cy="470.7" r="18.5"/>
<circle class="x" cx="1202.4" cy="369.0" r="18.5"/>
<circle class="x" cx="1170.3" cy="344.9" r="18.5"/>
<circle class="x" cx="1103.4" cy="285.9" r="18.5"/>
<circle class="x" cx="1008.0" cy="166.3" r="18.5"/>
</g>
<rect x="1509.4" y="76.5" width="322" height="239.9" fill="#fff" stroke="#000" stroke-width="6.8"/>
<g stroke="#000" stroke-width="6.4">
<circle cx="1585.8" cy="120.9" r="18.6" fill="#c0c0c0"/>
<circle cx="1585.8" cy="197.9" r="18.6" fill="#50b9ff"/>
<circle cx="1585.8" cy="275.0" r="18.6" fill="#0f0"/>
</g>
<g class="leg" font-size="65.4">
<text transform="translate(1670.3 141.2) scale(0.94 1)">SR5</text>
<text transform="translate(1670.3 218.3) scale(0.94 1)">SR10</text>
<text transform="translate(1670.3 295.3) scale(0.94 1)">SR15</text>
</g>
<rect x="490.5" y="516.8" width="590.5" height="520.7" fill="#f0f0f0"/>
<defs><clipPath id="ins"><rect x="490.5" y="516.8" width="590.5" height="520.7"/></clipPath></defs>
<g clip-path="url(#ins)" fill="none" stroke="#000" stroke-width="5.3" stroke-linecap="round" stroke-linejoin="round">
<path d="M553.1 1058.0C553.40 1056.73 554.27 1052.79 554.86 1050.16C555.45 1047.54 556.05 1044.92 556.64 1042.30C557.24 1039.68 557.83 1037.06 558.43 1034.44C559.03 1031.83 559.64 1029.21 560.24 1026.60C560.85 1023.99 561.45 1021.38 562.06 1018.77C562.67 1016.16 563.28 1013.56 563.90 1010.95C564.51 1008.35 565.13 1005.75 565.75 1003.15C566.37 1000.54 566.99 997.94 567.61 995.35C568.23 992.75 568.86 990.15 569.48 987.56C570.11 984.96 570.74 982.37 571.37 979.77C572.00 977.18 572.63 974.59 573.27 972.00C573.90 969.41 574.54 966.82 575.17 964.23C575.81 961.64 576.45 959.05 577.09 956.47C577.73 953.88 578.37 951.29 579.02 948.71C579.66 946.12 580.30 943.54 580.95 940.95C581.60 938.37 582.25 935.78 582.89 933.20C583.54 930.62 584.19 928.03 584.85 925.45C585.50 922.87 586.15 920.29 586.80 917.70C587.46 915.12 588.11 912.54 588.77 909.96C589.43 907.37 590.08 904.79 590.74 902.21C591.40 899.63 592.06 897.04 592.72 894.46C593.38 891.88 594.04 889.30 594.70 886.71C595.36 884.13 596.02 881.55 596.68 878.96C597.35 876.38 598.01 873.79 598.67 871.21C599.34 868.62 600.00 866.04 600.67 863.45C601.33 860.86 602.00 858.27 602.66 855.69C603.33 853.10 603.99 850.51 604.66 847.92C605.33 845.33 605.99 842.74 606.66 840.14C607.33 837.55 607.99 834.96 608.66 832.36C609.33 829.77 610.00 827.17 610.67 824.58C611.35 821.98 612.02 819.39 612.70 816.79C613.38 814.20 614.07 811.60 614.76 809.01C615.45 806.41 616.15 803.82 616.86 801.23C617.56 798.64 618.27 796.05 619.00 793.46C619.72 790.87 620.45 788.29 621.19 785.70C621.93 783.12 622.68 780.54 623.45 777.96C624.21 775.38 624.99 772.80 625.78 770.23C626.57 767.66 627.37 765.09 628.19 762.53C629.01 759.96 629.84 757.40 630.69 754.84C631.54 752.29 632.41 749.74 633.29 747.19C634.18 744.64 635.08 742.10 636.00 739.57C636.93 737.03 637.87 734.50 638.83 731.98C639.80 729.46 640.78 726.94 641.80 724.45C642.81 721.95 643.85 719.46 644.93 717.00C646.00 714.53 647.10 712.08 648.24 709.66C649.38 707.24 650.54 704.83 651.75 702.45C652.96 700.08 654.21 697.73 655.50 695.41C656.79 693.09 658.11 690.80 659.49 688.55C660.86 686.29 662.28 684.07 663.75 681.89C665.22 679.71 666.73 677.57 668.30 675.47C669.87 673.38 671.50 671.32 673.17 669.31C674.85 667.31 676.58 665.34 678.36 663.43C680.14 661.51 681.97 659.63 683.84 657.80C685.71 655.97 687.63 654.18 689.59 652.43C691.55 650.68 693.56 648.97 695.60 647.30C697.64 645.63 699.72 644.01 701.83 642.41C703.94 640.82 706.09 639.27 708.26 637.75C710.44 636.24 712.65 634.76 714.88 633.32C717.11 631.87 719.38 630.46 721.66 629.09C723.95 627.71 726.27 626.37 728.60 625.07C730.94 623.76 733.30 622.48 735.68 621.24C738.06 619.99 740.46 618.78 742.88 617.60C745.30 616.41 747.74 615.26 750.19 614.13C752.65 613.01 755.12 611.91 757.60 610.84C760.09 609.77 762.59 608.73 765.10 607.71C767.61 606.69 770.14 605.70 772.67 604.73C775.20 603.76 777.75 602.82 780.30 601.89C782.85 600.97 785.41 600.07 787.97 599.19C790.53 598.32 793.10 597.46 795.67 596.62C798.24 595.79 800.81 594.97 803.39 594.17C805.96 593.37 808.54 592.59 811.11 591.83C813.69 591.07 816.27 590.32 818.85 589.60C821.43 588.87 824.02 588.16 826.60 587.46C829.18 586.77 831.77 586.09 834.36 585.43C836.94 584.77 839.53 584.12 842.12 583.48C844.71 582.85 847.31 582.23 849.90 581.62C852.49 581.02 855.09 580.43 857.69 579.85C860.28 579.27 862.88 578.70 865.48 578.14C868.08 577.59 870.69 577.04 873.29 576.51C875.89 575.98 878.50 575.45 881.11 574.94C883.71 574.43 886.32 573.93 888.93 573.43C891.54 572.94 894.15 572.45 896.77 571.98C899.38 571.50 902.00 571.03 904.61 570.57C907.23 570.11 909.85 569.66 912.47 569.21C915.09 568.76 917.71 568.32 920.33 567.89C922.96 567.45 925.58 567.02 928.21 566.59C930.83 566.17 933.46 565.75 936.09 565.33C938.72 564.92 941.35 564.50 943.99 564.09C946.62 563.68 949.25 563.28 951.89 562.87C954.53 562.47 957.16 562.06 959.80 561.66C962.44 561.26 965.08 560.86 967.73 560.46C970.37 560.06 973.01 559.66 975.66 559.26C978.31 558.86 980.95 558.46 983.60 558.05C986.25 557.65 988.90 557.25 991.56 556.84C994.21 556.43 996.86 556.02 999.52 555.61C1002.18 555.20 1004.83 554.79 1007.49 554.37C1010.15 553.95 1012.81 553.52 1015.48 553.10C1018.14 552.67 1020.80 552.23 1023.47 551.79C1026.13 551.36 1030.14 550.68 1031.47 550.46"/>
<path d="M571.5 990.4C572.15 989.19 574.11 985.66 575.40 983.30C576.69 980.94 577.97 978.59 579.25 976.22C580.52 973.86 581.79 971.50 583.06 969.14C584.32 966.77 585.58 964.40 586.83 962.03C588.09 959.67 589.33 957.30 590.57 954.92C591.82 952.55 593.05 950.18 594.28 947.80C595.51 945.43 596.74 943.05 597.96 940.67C599.18 938.29 600.39 935.91 601.61 933.53C602.82 931.15 604.02 928.76 605.22 926.38C606.43 923.99 607.62 921.60 608.82 919.21C610.01 916.82 611.20 914.43 612.38 912.04C613.57 909.65 614.75 907.26 615.93 904.86C617.11 902.47 618.28 900.07 619.45 897.67C620.62 895.27 621.79 892.87 622.96 890.47C624.12 888.07 625.28 885.67 626.44 883.26C627.60 880.86 628.76 878.45 629.91 876.04C631.07 873.64 632.22 871.23 633.37 868.82C634.52 866.41 635.66 864.00 636.81 861.58C637.96 859.17 639.10 856.76 640.24 854.34C641.38 851.93 642.52 849.51 643.66 847.09C644.80 844.67 645.94 842.25 647.08 839.83C648.21 837.41 649.35 834.99 650.48 832.57C651.62 830.14 652.75 827.72 653.89 825.29C655.02 822.87 656.15 820.44 657.29 818.01C658.42 815.58 659.55 813.16 660.69 810.73C661.83 808.30 662.97 805.87 664.12 803.45C665.27 801.03 666.42 798.61 667.59 796.19C668.75 793.77 669.93 791.36 671.11 788.96C672.30 786.55 673.50 784.15 674.72 781.76C675.94 779.37 677.17 776.99 678.42 774.62C679.67 772.25 680.94 769.88 682.24 767.53C683.53 765.18 684.84 762.84 686.18 760.52C687.53 758.20 688.89 755.88 690.29 753.59C691.68 751.29 693.10 749.01 694.56 746.75C696.01 744.48 697.50 742.24 699.02 740.01C700.54 737.78 702.09 735.57 703.69 733.39C705.28 731.22 706.91 729.06 708.60 726.95C710.28 724.85 712.00 722.77 713.78 720.76C715.57 718.75 717.39 716.79 719.28 714.90C721.17 713.01 723.12 711.17 725.13 709.42C727.14 707.68 729.22 706.00 731.35 704.42C733.49 702.84 735.68 701.34 737.93 699.95C740.17 698.56 742.47 697.26 744.80 696.09C747.14 694.92 749.53 693.85 751.95 692.91C754.37 691.98 756.83 691.17 759.32 690.49C761.80 689.81 764.32 689.27 766.87 688.84C769.41 688.42 771.98 688.12 774.56 687.92C777.15 687.73 779.76 687.66 782.38 687.68C785.00 687.70 787.63 687.83 790.27 688.05C792.91 688.27 795.57 688.60 798.22 689.00C800.87 689.39 803.53 689.89 806.18 690.45C808.83 691.01 811.48 691.66 814.12 692.37C816.76 693.07 819.39 693.85 822.01 694.69C824.62 695.52 827.23 696.42 829.81 697.36C832.39 698.30 834.96 699.30 837.50 700.33C840.04 701.37 842.55 702.45 845.03 703.56C847.52 704.66 849.97 705.81 852.41 706.98C854.84 708.16 857.24 709.36 859.63 710.59C862.02 711.83 864.38 713.09 866.73 714.37C869.07 715.65 871.40 716.96 873.71 718.29C876.02 719.62 878.31 720.97 880.60 722.33C882.88 723.70 885.15 725.08 887.41 726.48C889.68 727.88 891.92 729.29 894.17 730.71C896.42 732.13 898.65 733.56 900.89 735.00C903.12 736.43 905.35 737.88 907.58 739.33C909.81 740.77 912.04 742.23 914.27 743.68C916.50 745.13 918.73 746.58 920.97 748.03C923.21 749.47 925.45 750.92 927.70 752.36C929.95 753.80 932.20 755.24 934.46 756.67C936.72 758.10 938.98 759.53 941.24 760.95C943.51 762.38 945.78 763.80 948.06 765.21C950.33 766.62 952.61 768.03 954.90 769.43C957.19 770.83 959.48 772.22 961.77 773.61C964.07 774.99 966.37 776.37 968.67 777.74C970.98 779.11 973.29 780.48 975.60 781.83C977.91 783.19 980.23 784.54 982.56 785.87C984.88 787.21 987.21 788.54 989.55 789.86C991.88 791.18 994.22 792.48 996.56 793.78C998.91 795.08 1001.26 796.37 1003.61 797.64C1005.97 798.92 1008.33 800.19 1010.69 801.44C1013.05 802.69 1015.42 803.93 1017.80 805.16C1020.17 806.39 1022.55 807.61 1024.94 808.81C1027.32 810.01 1029.71 811.20 1032.10 812.38C1034.50 813.55 1036.90 814.71 1039.30 815.86C1041.71 817.01 1045.33 818.69 1046.53 819.25"/>
</g>
<circle cx="571.5" cy="990.3" r="17.5" fill="#f00" stroke="#000" stroke-width="2.6"/>
<polygon points="571.5,958.3 591.9,993.6 551.1,993.6" fill="#0ff" stroke="#000" stroke-width="2.6" stroke-linejoin="miter"/>
<polygon points="571.5,982.8 575.6,995.4 588.8,995.4 578.1,1003.1 582.2,1015.7 571.5,1008.0 560.8,1015.7 564.9,1003.1 554.2,995.4 567.4,995.4" fill="#ff0" stroke="#000" stroke-width="2.6"/>
<rect x="556.1" y="965.7" width="30.8" height="30.6" fill="#fff" fill-opacity="0.667" stroke="none"/>
<rect x="556.1" y="965.7" width="30.8" height="30.6" fill="none" stroke="#000" stroke-width="3.9"/>
<circle cx="775.0" cy="684.9" r="17.5" fill="#f00" stroke="#000" stroke-width="2.6"/>
<polygon points="775.2,593.9 795.6,629.2 754.8,629.2" fill="#0ff" stroke="#000" stroke-width="2.6" stroke-linejoin="miter"/>
<polygon points="775.2,598.8 779.3,611.4 792.5,611.4 781.8,619.1 785.9,631.7 775.2,624.0 764.5,631.7 768.6,619.1 757.9,611.4 771.1,611.4" fill="#ff0" stroke="#000" stroke-width="2.6"/>
<circle cx="979.2" cy="770.7" r="17.5" fill="#f00" stroke="#000" stroke-width="2.6"/>
<polygon points="979.2,782.3 999.6,817.6 958.8,817.6" fill="#0ff" stroke="#000" stroke-width="2.6" stroke-linejoin="miter"/>
<polygon points="979.1,542.8 983.2,555.4 996.4,555.4 985.7,563.1 989.8,575.7 979.1,568.0 968.4,575.7 972.5,563.1 961.8,555.4 975.0,555.4" fill="#ff0" stroke="#000" stroke-width="2.6"/>
<g stroke="#000" stroke-width="5.8" fill="none">
<path d="M571.8 516.8v17.0M571.8 1037.5v-17.0M775.1 516.8v17.0M775.1 1037.5v-17.0M978.4 516.8v17.0M978.4 1037.5v-17.0M490.5 1017.6h17.0M1081.0 1017.6h-17.0M490.5 977.6h8.3M1081.0 977.6h-8.3M490.5 937.5h17.0M1081.0 937.5h-17.0M490.5 897.5h8.3M1081.0 897.5h-8.3M490.5 857.4h17.0M1081.0 857.4h-17.0M490.5 817.4h8.3M1081.0 817.4h-8.3M490.5 777.3h17.0M1081.0 777.3h-17.0M490.5 737.2h8.3M1081.0 737.2h-8.3M490.5 697.2h17.0M1081.0 697.2h-17.0M490.5 657.2h8.3M1081.0 657.2h-8.3M490.5 617.1h17.0M1081.0 617.1h-17.0M490.5 577.1h8.3M1081.0 577.1h-8.3M490.5 537.0h17.0M1081.0 537.0h-17.0"/>
<rect x="490.5" y="516.8" width="590.5" height="520.7"/>
</g>
<g class="b" font-size="48.5">
<text transform="translate(471.5 1032.2) scale(1 1.027)" text-anchor="end">0</text>
<text transform="translate(471.5 952.1) scale(1 1.027)" text-anchor="end">2</text>
<text transform="translate(471.5 872.0) scale(1 1.027)" text-anchor="end">4</text>
<text transform="translate(471.5 791.9) scale(1 1.027)" text-anchor="end">6</text>
<text transform="translate(471.5 711.8) scale(1 1.027)" text-anchor="end">8</text>
<text transform="translate(471.5 631.7) scale(1 1.027)" text-anchor="end">10</text>
<text transform="translate(471.5 551.6) scale(1 1.027)" text-anchor="end">12</text>
<text transform="translate(572.3 1094.2) scale(1 1.027)" text-anchor="middle">5</text>
<text transform="translate(775.6 1094.2) scale(1 1.027)" text-anchor="middle">10</text>
<text transform="translate(978.9 1094.2) scale(1 1.027)" text-anchor="middle">15</text>
<text x="719" y="1145.3" xml:space="preserve"><tspan class="bi">d</tspan>  (nm)</text>
<text transform="translate(400.7 945) rotate(-90)"><tspan class="bi">J</tspan><tspan class="bi" font-size="35" dy="14">Co</tspan><tspan dy="-14"> (MAcm</tspan><tspan font-size="34" dy="-20">-2</tspan><tspan dy="20">)</tspan></text>
</g>
</svg>
</body></html>
